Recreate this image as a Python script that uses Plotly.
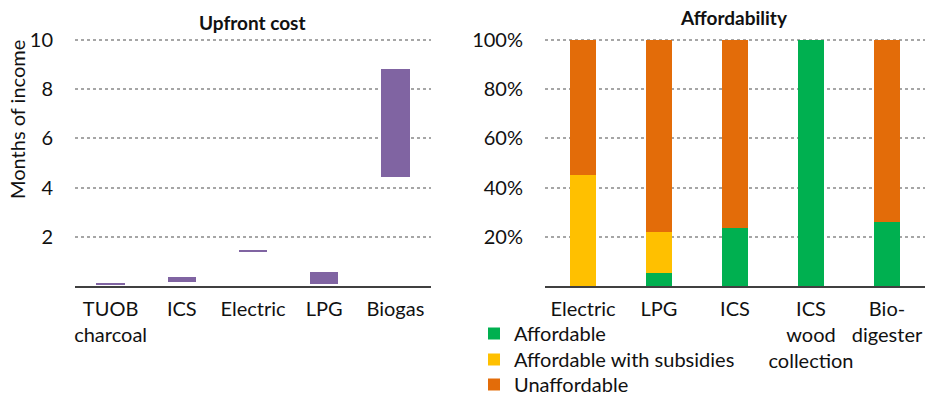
import plotly.graph_objects as go

# Upfront cost (months of income) floating ranges
cost_categories = ["TUOB<br>charcoal", "ICS", "Electric", "LPG", "Biogas"]
cost_low = [0.05, 0.18, 1.38, 0.09, 4.42]
cost_high = [0.10, 0.36, 1.47, 0.55, 8.83]

# Affordability shares (%)
aff_categories = ["Electric", "LPG", "ICS", "ICS<br>wood<br>collection", "Bio-<br>digester"]
affordable = [0, 5.1, 23.5, 100, 26.1]
affordable_subsidies = [45.3, 16.7, 0, 0, 0]
unaffordable = [54.7, 78.2, 76.5, 0, 73.9]

left_ticks = [2, 4, 6, 8, 10]
right_ticks = [20, 40, 60, 80, 100]
right_labels = ["20%", "40%", "60%", "80%", "100%"]

FONT = "Lato, 'Open Sans', sans-serif"
W, H = 933, 395

fig = go.Figure()

fig.add_trace(go.Bar(
    x=cost_categories, y=[h - l for h, l in zip(cost_high, cost_low)], base=cost_low,
    marker=dict(color="#8064A2", line=dict(width=0)), width=0.4,
    xaxis="x", yaxis="y", showlegend=False,
))

series = [("Affordable", affordable, "#00B050", "legend"),
          ("Affordable with subsidies", affordable_subsidies, "#FFC000", "legend2"),
          ("Unaffordable", unaffordable, "#E36C09", "legend3")]
for name, vals, col, lg in series:
    fig.add_trace(go.Bar(
        x=aff_categories, y=vals, name=name, legend=lg,
        marker=dict(color=col, line=dict(width=0)), width=0.33,
        xaxis="x2", yaxis="y2",
    ))

# zero at y=286px, 10 (100%) at y=40px; range extends to 10.2 (102%)
ybot = 1 - 286 / H
ytop = 1 - (286 - 246 * 1.02) / H

def leg(top_px):
    return dict(x=474 / W, y=1 - top_px / H, xanchor="left", yanchor="top",
                font=dict(size=20), itemwidth=30, bgcolor="rgba(0,0,0,0)")

grid = dict(showgrid=True, gridcolor="#A6A6A6", griddash="dot", gridwidth=1.5)
fig.update_layout(
    width=W, height=H, margin=dict(l=0, r=0, t=0, b=0, autoexpand=False),
    paper_bgcolor="white", plot_bgcolor="white",
    font=dict(family=FONT, size=20, color="#111111"),
    barmode="stack",
    xaxis=dict(domain=[75 / W, 431 / W], anchor="y", showline=True, linecolor="#404040",
               linewidth=1.5, showgrid=False, ticks="", automargin=False, ticklabelstandoff=4,
               tickangle=0),
    yaxis=dict(domain=[ybot, ytop], anchor="x", range=[0, 10.2], tickvals=left_ticks,
               showline=False, zeroline=False, ticklabelstandoff=21, automargin=False, **grid),
    xaxis2=dict(domain=[545 / W, 925 / W], anchor="y2", showline=True, linecolor="#404040",
                linewidth=1.5, showgrid=False, ticks="", automargin=False, ticklabelstandoff=4,
                tickangle=0),
    yaxis2=dict(domain=[ybot, ytop], anchor="x2", range=[0, 102], tickvals=right_ticks,
                ticktext=right_labels, showline=False, zeroline=False, ticklabelstandoff=21,
                automargin=False, **grid),
    legend=leg(314),
    legend2=leg(340),
    legend3=leg(365),
    annotations=[
        dict(text="<b>Upfront cost</b>", x=252 / W, y=1 - 23 / H, xref="paper", yref="paper",
             xanchor="center", yanchor="middle", showarrow=False, font=dict(size=19)),
        dict(text="<b>Affordability</b>", x=734 / W, y=1 - 17 / H, xref="paper", yref="paper",
             xanchor="center", yanchor="middle", showarrow=False, font=dict(size=19)),
        dict(text="Months of income", x=17 / W, y=1 - 120 / H, xref="paper", yref="paper",
             xanchor="center", yanchor="middle", textangle=-90, showarrow=False,
             font=dict(size=20)),
    ],
)

fig.write_html("out.html", config={"displayModeBar": False},
               post_script="document.body.style.margin='0px';")
